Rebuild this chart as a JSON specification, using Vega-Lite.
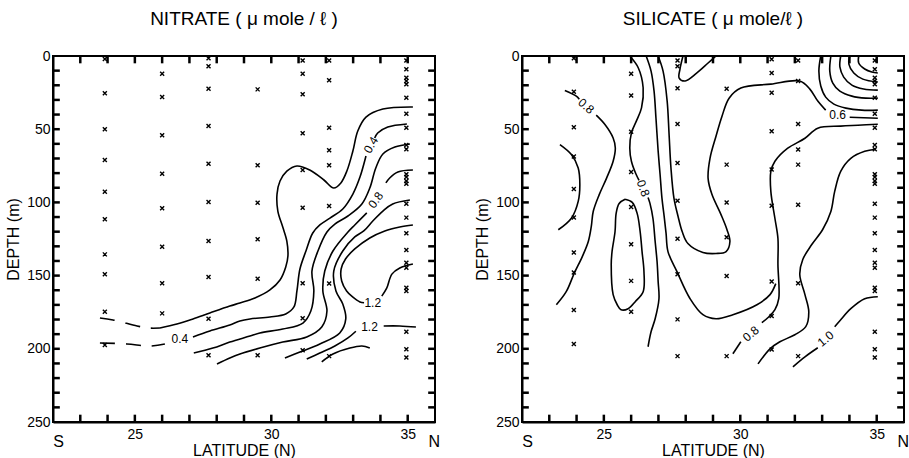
{
"$schema": "https://vega.github.io/schema/vega-lite/v6.json",
"background": "white",
"padding": {"left": 4, "top": 9, "right": 0, "bottom": 0},
"spacing": 32,
"config": {
  "view": {"stroke": "black", "strokeWidth": 2},
  "font": "Liberation Sans",
  "axis": {"grid": false, "ticks": false, "domainColor": "black", "domainWidth": 2, "labelColor": "black", "labelFont": "Liberation Sans", "labelFontSize": 14, "labelPadding": 3, "titleColor": "black", "titleFont": "Liberation Sans", "titleFontSize": 16, "titleFontWeight": "normal"},
  "title": {"font": "Liberation Sans", "fontSize": 19, "fontWeight": "normal", "color": "black", "offset": 20},
  "text": {"font": "Liberation Sans", "color": "black"}
},
"datasets": {
  "frameticks": [
    {"side":"x","v":23},{"side":"x","v":24},{"side":"x","v":25},{"side":"x","v":26},{"side":"x","v":27},{"side":"x","v":28},{"side":"x","v":29},{"side":"x","v":30},{"side":"x","v":31},{"side":"x","v":32},{"side":"x","v":33},{"side":"x","v":34},{"side":"x","v":35},
    {"side":"y","v":10},{"side":"y","v":20},{"side":"y","v":30},{"side":"y","v":40},{"side":"y","v":50},{"side":"y","v":60},{"side":"y","v":70},{"side":"y","v":80},{"side":"y","v":90},{"side":"y","v":100},{"side":"y","v":110},{"side":"y","v":120},{"side":"y","v":130},{"side":"y","v":140},{"side":"y","v":150},{"side":"y","v":160},{"side":"y","v":170},{"side":"y","v":180},{"side":"y","v":190},{"side":"y","v":200},{"side":"y","v":210},{"side":"y","v":220},{"side":"y","v":230},{"side":"y","v":240}
  ],
  "stations": [
    {"p":"N","lat":23.9,"depth":2},{"p":"N","lat":23.9,"depth":25.5},{"p":"N","lat":23.9,"depth":50},{"p":"N","lat":23.9,"depth":71},{"p":"N","lat":23.9,"depth":92.7},{"p":"N","lat":23.9,"depth":111.5},{"p":"N","lat":23.9,"depth":135.5},{"p":"N","lat":23.9,"depth":149},{"p":"N","lat":23.9,"depth":174.7},{"p":"N","lat":23.9,"depth":197.4},
    {"p":"N","lat":26.0,"depth":12.1},{"p":"N","lat":26.0,"depth":28},{"p":"N","lat":26.0,"depth":54.2},{"p":"N","lat":26.0,"depth":80.4},{"p":"N","lat":26.0,"depth":104},{"p":"N","lat":26.0,"depth":130.3},{"p":"N","lat":26.0,"depth":155.3},{"p":"N","lat":26.0,"depth":175.8},
    {"p":"N","lat":27.7,"depth":1.6},{"p":"N","lat":27.7,"depth":7},{"p":"N","lat":27.7,"depth":22.3},{"p":"N","lat":27.7,"depth":47.8},{"p":"N","lat":27.7,"depth":73.6},{"p":"N","lat":27.7,"depth":99.7},{"p":"N","lat":27.7,"depth":126.4},{"p":"N","lat":27.7,"depth":151},{"p":"N","lat":27.7,"depth":179.4},{"p":"N","lat":27.7,"depth":204.4},
    {"p":"N","lat":29.5,"depth":22.8},{"p":"N","lat":29.5,"depth":74.7},{"p":"N","lat":29.5,"depth":100.2},{"p":"N","lat":29.5,"depth":125.2},{"p":"N","lat":29.5,"depth":152.1},{"p":"N","lat":29.5,"depth":204.4},
    {"p":"N","lat":31.15,"depth":3},{"p":"N","lat":31.15,"depth":12.1},{"p":"N","lat":31.15,"depth":26.2},{"p":"N","lat":31.15,"depth":52.8},{"p":"N","lat":31.15,"depth":77.9},{"p":"N","lat":31.15,"depth":103.6},{"p":"N","lat":31.15,"depth":155.3},{"p":"N","lat":31.15,"depth":179.2},{"p":"N","lat":31.15,"depth":201},
    {"p":"N","lat":32.12,"depth":3},{"p":"N","lat":32.12,"depth":16.6},{"p":"N","lat":32.12,"depth":49},{"p":"N","lat":32.12,"depth":64.4},{"p":"N","lat":32.12,"depth":74.7},{"p":"N","lat":32.12,"depth":102.5},{"p":"N","lat":32.12,"depth":155.4},{"p":"N","lat":32.12,"depth":205},
    {"p":"N","lat":34.95,"depth":3},{"p":"N","lat":34.95,"depth":9},{"p":"N","lat":34.95,"depth":14.8},{"p":"N","lat":34.95,"depth":17},{"p":"N","lat":34.95,"depth":19.3},{"p":"N","lat":34.95,"depth":28.5},{"p":"N","lat":34.95,"depth":39.4},{"p":"N","lat":34.95,"depth":49},{"p":"N","lat":34.95,"depth":60.8},{"p":"N","lat":34.95,"depth":63.7},{"p":"N","lat":34.95,"depth":80.8},{"p":"N","lat":34.95,"depth":82.6},{"p":"N","lat":34.95,"depth":85.4},{"p":"N","lat":34.95,"depth":87.2},{"p":"N","lat":34.95,"depth":100.9},{"p":"N","lat":34.95,"depth":110.4},{"p":"N","lat":34.95,"depth":121.1},{"p":"N","lat":34.95,"depth":132.5},{"p":"N","lat":34.95,"depth":141.2},{"p":"N","lat":34.95,"depth":144.6},{"p":"N","lat":34.95,"depth":158.3},{"p":"N","lat":34.95,"depth":160.5},{"p":"N","lat":34.95,"depth":188.3},{"p":"N","lat":34.95,"depth":200.3},{"p":"N","lat":34.95,"depth":206},
    {"p":"S","lat":23.9,"depth":1.6},{"p":"S","lat":23.9,"depth":24.4},{"p":"S","lat":23.9,"depth":48.6},{"p":"S","lat":23.9,"depth":68.7},{"p":"S","lat":23.9,"depth":90.9},{"p":"S","lat":23.9,"depth":110.3},{"p":"S","lat":23.9,"depth":134.2},{"p":"S","lat":23.9,"depth":147.9},{"p":"S","lat":23.9,"depth":173.5},{"p":"S","lat":23.9,"depth":196.8},
    {"p":"S","lat":26.0,"depth":12.1},{"p":"S","lat":26.0,"depth":26.9},{"p":"S","lat":26.0,"depth":51.8},{"p":"S","lat":26.0,"depth":79.2},{"p":"S","lat":26.0,"depth":103.2},{"p":"S","lat":26.0,"depth":128.6},{"p":"S","lat":26.0,"depth":153.6},{"p":"S","lat":26.0,"depth":174.7},
    {"p":"S","lat":27.7,"depth":3},{"p":"S","lat":27.7,"depth":7},{"p":"S","lat":27.7,"depth":22.1},{"p":"S","lat":27.7,"depth":46.4},{"p":"S","lat":27.7,"depth":73.1},{"p":"S","lat":27.7,"depth":98.8},{"p":"S","lat":27.7,"depth":124.9},{"p":"S","lat":27.7,"depth":149.1},{"p":"S","lat":27.7,"depth":179.9},{"p":"S","lat":27.7,"depth":205},
    {"p":"S","lat":29.5,"depth":22.4},{"p":"S","lat":29.5,"depth":74.2},{"p":"S","lat":29.5,"depth":100},{"p":"S","lat":29.5,"depth":123.8},{"p":"S","lat":29.5,"depth":150.2},{"p":"S","lat":29.5,"depth":205},
    {"p":"S","lat":31.15,"depth":2.3},{"p":"S","lat":31.15,"depth":11.6},{"p":"S","lat":31.15,"depth":25.1},{"p":"S","lat":31.15,"depth":51.4},{"p":"S","lat":31.15,"depth":77.6},{"p":"S","lat":31.15,"depth":102.3},{"p":"S","lat":31.15,"depth":154.1},{"p":"S","lat":31.15,"depth":177.6},{"p":"S","lat":31.15,"depth":200.5},
    {"p":"S","lat":32.12,"depth":3},{"p":"S","lat":32.12,"depth":17.1},{"p":"S","lat":32.12,"depth":46.4},{"p":"S","lat":32.12,"depth":63.9},{"p":"S","lat":32.12,"depth":74.2},{"p":"S","lat":32.12,"depth":101.6},{"p":"S","lat":32.12,"depth":155.3},{"p":"S","lat":32.12,"depth":205},
    {"p":"S","lat":34.93,"depth":3},{"p":"S","lat":34.93,"depth":9},{"p":"S","lat":34.93,"depth":14.8},{"p":"S","lat":34.93,"depth":17},{"p":"S","lat":34.93,"depth":19.3},{"p":"S","lat":34.93,"depth":28.5},{"p":"S","lat":34.93,"depth":39.4},{"p":"S","lat":34.93,"depth":49},{"p":"S","lat":34.93,"depth":60.8},{"p":"S","lat":34.93,"depth":63.7},{"p":"S","lat":34.93,"depth":80.8},{"p":"S","lat":34.93,"depth":82.6},{"p":"S","lat":34.93,"depth":85.4},{"p":"S","lat":34.93,"depth":87.2},{"p":"S","lat":34.93,"depth":100.9},{"p":"S","lat":34.93,"depth":110.4},{"p":"S","lat":34.93,"depth":121.1},{"p":"S","lat":34.93,"depth":132.5},{"p":"S","lat":34.93,"depth":141.2},{"p":"S","lat":34.93,"depth":144.6},{"p":"S","lat":34.93,"depth":158.3},{"p":"S","lat":34.93,"depth":160.5},{"p":"S","lat":34.93,"depth":188.3},{"p":"S","lat":34.93,"depth":200.3},{"p":"S","lat":34.93,"depth":206}
  ],
  "nlines": [
    {"c":"L1","lat":35.19,"depth":34.8},{"c":"L1","lat":34.09,"depth":36.2},{"c":"L1","lat":33.47,"depth":41.7},{"c":"L1","lat":33.17,"depth":51.2},{"c":"L1","lat":32.99,"depth":64.9},{"c":"L1","lat":32.77,"depth":78.6},{"c":"L1","lat":32.55,"depth":86.7},{"c":"L1","lat":32.29,"depth":90.2},{"c":"L1","lat":31.93,"depth":84.7},{"c":"L1","lat":31.41,"depth":77.9},{"c":"L1","lat":30.94,"depth":75.1},{"c":"L1","lat":30.57,"depth":78.6},{"c":"L1","lat":30.32,"depth":85.4},{"c":"L1","lat":30.21,"depth":94.3},{"c":"L1","lat":30.24,"depth":105.9},{"c":"L1","lat":30.42,"depth":116.8},{"c":"L1","lat":30.57,"depth":126.4},{"c":"L1","lat":30.61,"depth":136.6},{"c":"L1","lat":30.53,"depth":144.1},{"c":"L1","lat":30.32,"depth":153.0},{"c":"L1","lat":29.95,"depth":159.8},{"c":"L1","lat":29.40,"depth":165.3},{"c":"L1","lat":28.85,"depth":168.7},{"c":"L1","lat":28.48,"depth":170.8},{"c":"L1","lat":27.75,"depth":175.5},{"c":"L1","lat":27.13,"depth":179.6},{"c":"L1","lat":26.54,"depth":183.1},{"c":"L1","lat":25.92,"depth":185.8},
    {"c":"L2a","lat":34.97,"depth":46.4},{"c":"L2a","lat":34.27,"depth":48.5},{"c":"L2a","lat":33.90,"depth":52.6},{"c":"L2a","lat":33.79,"depth":56.0},
    {"c":"L2b","lat":33.47,"depth":68.3},{"c":"L2b","lat":33.25,"depth":82.7},{"c":"L2b","lat":32.99,"depth":94.3},{"c":"L2b","lat":32.62,"depth":104.5},{"c":"L2b","lat":32.15,"depth":110.7},{"c":"L2b","lat":31.78,"depth":115.4},{"c":"L2b","lat":31.52,"depth":120.9},{"c":"L2b","lat":31.27,"depth":133.2},{"c":"L2b","lat":31.05,"depth":145.5},{"c":"L2b","lat":30.94,"depth":160.5},{"c":"L2b","lat":30.83,"depth":171.4},{"c":"L2b","lat":30.53,"depth":176.2},{"c":"L2b","lat":29.95,"depth":178.3},{"c":"L2b","lat":29.22,"depth":179.6},{"c":"L2b","lat":28.85,"depth":181.0},{"c":"L2b","lat":28.48,"depth":183.7},{"c":"L2b","lat":27.75,"depth":187.8},{"c":"L2b","lat":27.13,"depth":191.9},
    {"c":"L3","lat":35.08,"depth":60.1},{"c":"L3","lat":34.53,"depth":62.2},{"c":"L3","lat":34.09,"depth":66.9},{"c":"L3","lat":33.83,"depth":76.5},{"c":"L3","lat":33.61,"depth":90.2},{"c":"L3","lat":33.32,"depth":101.1},{"c":"L3","lat":32.81,"depth":109.3},{"c":"L3","lat":32.33,"depth":114.8},{"c":"L3","lat":32.04,"depth":120.2},{"c":"L3","lat":31.71,"depth":133.2},{"c":"L3","lat":31.49,"depth":146.9},{"c":"L3","lat":31.56,"depth":160.5},{"c":"L3","lat":31.45,"depth":174.2},{"c":"L3","lat":31.16,"depth":182.4},{"c":"L3","lat":30.42,"depth":186.5},{"c":"L3","lat":29.58,"depth":189.2},{"c":"L3","lat":29.22,"depth":191.3},{"c":"L3","lat":28.48,"depth":195.4},{"c":"L3","lat":27.86,"depth":199.5},{"c":"L3","lat":27.16,"depth":202.9},
    {"c":"L4a","lat":35.19,"depth":77.9},{"c":"L4a","lat":34.64,"depth":79.2},{"c":"L4a","lat":34.34,"depth":83.3},{"c":"L4a","lat":34.20,"depth":86.7},
    {"c":"L4b","lat":33.50,"depth":107.2},{"c":"L4b","lat":33.06,"depth":115.4},{"c":"L4b","lat":32.81,"depth":120.2},{"c":"L4b","lat":32.26,"depth":133.2},{"c":"L4b","lat":31.96,"depth":146.9},{"c":"L4b","lat":31.89,"depth":160.5},{"c":"L4b","lat":32.04,"depth":174.2},{"c":"L4b","lat":31.85,"depth":185.1},{"c":"L4b","lat":31.30,"depth":191.9},{"c":"L4b","lat":30.42,"depth":195.4},{"c":"L4b","lat":29.58,"depth":199.5},{"c":"L4b","lat":28.85,"depth":203.6},{"c":"L4b","lat":28.48,"depth":206.3},{"c":"L4b","lat":28.01,"depth":210.4},
    {"c":"L5","lat":35.08,"depth":98.4},{"c":"L5","lat":34.45,"depth":101.1},{"c":"L5","lat":34.09,"depth":105.9},{"c":"L5","lat":33.72,"depth":112.7},{"c":"L5","lat":33.39,"depth":119.5},{"c":"L5","lat":33.06,"depth":123.6},{"c":"L5","lat":32.62,"depth":133.2},{"c":"L5","lat":32.29,"depth":146.9},{"c":"L5","lat":32.37,"depth":160.5},{"c":"L5","lat":32.62,"depth":169.4},{"c":"L5","lat":32.73,"depth":179.6},{"c":"L5","lat":32.51,"depth":189.2},{"c":"L5","lat":31.78,"depth":196.7},{"c":"L5","lat":31.05,"depth":202.2},{"c":"L5","lat":30.50,"depth":206.3},
    {"c":"Ua","lat":35.19,"depth":115.4},{"c":"Ua","lat":34.71,"depth":116.8},{"c":"Ua","lat":34.16,"depth":119.5},{"c":"Ua","lat":33.61,"depth":124.3},{"c":"Ua","lat":33.06,"depth":131.8},{"c":"Ua","lat":32.72,"depth":138.7},{"c":"Ua","lat":32.56,"depth":145.5},{"c":"Ua","lat":32.58,"depth":153.7},{"c":"Ua","lat":32.76,"depth":160.5},{"c":"Ua","lat":32.98,"depth":164.6},{"c":"Ua","lat":33.25,"depth":168.0},{"c":"Ua","lat":33.40,"depth":168.5},
    {"c":"Ub","lat":34.05,"depth":164.0},{"c":"Ub","lat":34.23,"depth":158.6},{"c":"Ub","lat":34.42,"depth":149.0},{"c":"Ub","lat":34.71,"depth":144.8},{"c":"Ub","lat":35.19,"depth":142.1},
    {"c":"Ka","lat":35.30,"depth":185.1},{"c":"Ka","lat":34.71,"depth":184.4},{"c":"Ka","lat":34.12,"depth":184.4},
    {"c":"Kb","lat":33.10,"depth":188.0},{"c":"Kb","lat":32.81,"depth":192.6},{"c":"Kb","lat":32.33,"depth":198.1},{"c":"Kb","lat":31.78,"depth":202.9},{"c":"Kb","lat":31.30,"depth":207.0},
    {"c":"M","lat":31.85,"depth":209.0},{"c":"M","lat":32.26,"depth":203.6},{"c":"M","lat":32.88,"depth":199.5},{"c":"M","lat":33.32,"depth":198.1},{"c":"M","lat":33.61,"depth":199.5}
  ],
  "nlines_ext": [
    {"c":"L1d","lat":23.72,"depth":179.0},{"c":"L1d","lat":24.20,"depth":180.3},{"c":"L1d","lat":25.08,"depth":184.4},{"c":"L1d","lat":25.48,"depth":185.8},{"c":"L1d","lat":25.92,"depth":185.8},
    {"c":"L2d","lat":23.72,"depth":196.0},{"c":"L2d","lat":24.71,"depth":196.7},{"c":"L2d","lat":25.55,"depth":198.1},{"c":"L2d","lat":26.10,"depth":196.7}
  ],
  "slines": [
    {"c":"S1a","lat":23.57,"depth":23.5},{"c":"S1a","lat":23.99,"depth":27.4},{"c":"S1a","lat":24.10,"depth":29.5},
    {"c":"S1b","lat":24.72,"depth":40.4},{"c":"S1b","lat":25.04,"depth":46.8},{"c":"S1b","lat":25.34,"depth":56.0},{"c":"S1b","lat":25.42,"depth":62.8},{"c":"S1b","lat":25.34,"depth":71.9},{"c":"S1b","lat":25.10,"depth":83.4},{"c":"S1b","lat":24.83,"depth":94.7},{"c":"S1b","lat":24.61,"depth":106.2},{"c":"S1b","lat":24.54,"depth":116.4},{"c":"S1b","lat":24.43,"depth":126.7},{"c":"S1b","lat":24.21,"depth":137.0},{"c":"S1b","lat":23.91,"depth":148.6},{"c":"S1b","lat":23.62,"depth":161.0},{"c":"S1b","lat":23.26,"depth":169.9},
    {"c":"S2","lat":23.39,"depth":60.5},{"c":"S2","lat":23.81,"depth":67.3},{"c":"S2","lat":24.06,"depth":76.5},{"c":"S2","lat":24.12,"depth":87.9},{"c":"S2","lat":24.06,"depth":99.3},{"c":"S2","lat":23.81,"depth":110.8},{"c":"S2","lat":23.33,"depth":118.7},
    {"c":"S3a","lat":25.95,"depth":0},{"c":"S3a","lat":26.26,"depth":8.0},{"c":"S3a","lat":26.44,"depth":21.7},{"c":"S3a","lat":26.38,"depth":35.4},{"c":"S3a","lat":26.19,"depth":44.5},{"c":"S3a","lat":26.01,"depth":52.5},{"c":"S3a","lat":25.95,"depth":62.8},{"c":"S3a","lat":26.01,"depth":71.9},{"c":"S3a","lat":26.18,"depth":80.8},{"c":"S3a","lat":26.29,"depth":84.9},
    {"c":"S3b","lat":26.62,"depth":96.6},{"c":"S3b","lat":26.69,"depth":100.7},{"c":"S3b","lat":26.80,"depth":111.0},{"c":"S3b","lat":26.88,"depth":126.7},{"c":"S3b","lat":26.95,"depth":140.4},{"c":"S3b","lat":26.99,"depth":154.1},{"c":"S3b","lat":27.02,"depth":165.8},{"c":"S3b","lat":26.88,"depth":179.5},{"c":"S3b","lat":26.73,"depth":188.4},{"c":"S3b","lat":26.62,"depth":198.6},
    {"c":"S4","lat":26.55,"depth":0},{"c":"S4","lat":26.73,"depth":10.3},{"c":"S4","lat":26.84,"depth":24.0},{"c":"S4","lat":26.91,"depth":42.5},{"c":"S4","lat":26.99,"depth":65.1},{"c":"S4","lat":27.06,"depth":80.8},{"c":"S4","lat":27.13,"depth":97.3},{"c":"S4","lat":27.21,"depth":109.6},{"c":"S4","lat":27.28,"depth":121.2},{"c":"S4","lat":27.35,"depth":133.6},{"c":"S4","lat":27.68,"depth":147.3},{"c":"S4","lat":28.16,"depth":165.8},{"c":"S4","lat":28.63,"depth":176.7},{"c":"S4","lat":29.11,"depth":179.5},{"c":"S4","lat":29.73,"depth":176.7},{"c":"S4","lat":30.61,"depth":169.9},{"c":"S4","lat":31.09,"depth":163.0},{"c":"S4","lat":31.30,"depth":155.5},
    {"c":"S5a","lat":26.99,"depth":0},{"c":"S5a","lat":27.17,"depth":10.3},{"c":"S5a","lat":27.32,"depth":30.8},{"c":"S5a","lat":27.39,"depth":53.4},{"c":"S5a","lat":27.46,"depth":76.7},{"c":"S5a","lat":27.57,"depth":97.3},{"c":"S5a","lat":27.72,"depth":109.6},{"c":"S5a","lat":27.87,"depth":119.9},{"c":"S5a","lat":28.08,"depth":128.1},{"c":"S5a","lat":28.63,"depth":134.2},{"c":"S5a","lat":29.11,"depth":134.9},{"c":"S5a","lat":29.48,"depth":133.6},{"c":"S5a","lat":29.62,"depth":126.7},{"c":"S5a","lat":29.51,"depth":118.5},{"c":"S5a","lat":29.29,"depth":108.2},{"c":"S5a","lat":28.96,"depth":94.5},{"c":"S5a","lat":28.82,"depth":83.6},{"c":"S5a","lat":28.89,"depth":69.9},{"c":"S5a","lat":29.11,"depth":54.8},{"c":"S5a","lat":29.33,"depth":41.1},{"c":"S5a","lat":29.59,"depth":28.8},{"c":"S5a","lat":30.02,"depth":21.9},{"c":"S5a","lat":31.12,"depth":19.2},{"c":"S5a","lat":32.18,"depth":17.1},{"c":"S5a","lat":32.55,"depth":22.6},{"c":"S5a","lat":32.84,"depth":30.8},{"c":"S5a","lat":33.13,"depth":37.0},
    {"c":"S5b","lat":34.01,"depth":41.8},{"c":"S5b","lat":35.04,"depth":42.5},
    {"c":"T","lat":27.90,"depth":0},{"c":"T","lat":27.79,"depth":8.9},{"c":"T","lat":27.76,"depth":15.1},{"c":"T","lat":27.98,"depth":17.1},{"c":"T","lat":28.41,"depth":11.6},{"c":"T","lat":28.82,"depth":4.8},{"c":"T","lat":29.11,"depth":0},
    {"c":"LP","lat":25.78,"depth":97.9},{"c":"LP","lat":25.56,"depth":100.7},{"c":"LP","lat":25.45,"depth":107.5},{"c":"LP","lat":25.41,"depth":119.9},{"c":"LP","lat":25.30,"depth":133.6},{"c":"LP","lat":25.27,"depth":142.5},{"c":"LP","lat":25.34,"depth":163.0},{"c":"LP","lat":25.49,"depth":169.9},{"c":"LP","lat":25.63,"depth":173.3},{"c":"LP","lat":25.89,"depth":172.6},{"c":"LP","lat":26.15,"depth":167.8},{"c":"LP","lat":26.44,"depth":161.0},{"c":"LP","lat":26.47,"depth":147.3},{"c":"LP","lat":26.40,"depth":133.6},{"c":"LP","lat":26.33,"depth":119.9},{"c":"LP","lat":26.22,"depth":107.5},{"c":"LP","lat":26.04,"depth":100.0},{"c":"LP","lat":25.78,"depth":97.9},
    {"c":"Va","lat":35.04,"depth":46.6},{"c":"Va","lat":34.31,"depth":47.3},{"c":"Va","lat":33.68,"depth":47.9},{"c":"Va","lat":32.84,"depth":49.3},{"c":"Va","lat":32.37,"depth":56.2},{"c":"Va","lat":31.74,"depth":63.0},{"c":"Va","lat":31.27,"depth":71.9},{"c":"Va","lat":31.12,"depth":78.8},{"c":"Va","lat":31.12,"depth":92.5},{"c":"Va","lat":31.27,"depth":111.0},{"c":"Va","lat":31.38,"depth":124.7},{"c":"Va","lat":31.38,"depth":142.5},{"c":"Va","lat":31.41,"depth":165.8},{"c":"Va","lat":31.27,"depth":173.3},{"c":"Va","lat":31.05,"depth":178.1},{"c":"Va","lat":30.79,"depth":182.2},
    {"c":"Vb","lat":30.02,"depth":195.2},{"c":"Vb","lat":29.73,"depth":203.4},
    {"c":"S6","lat":34.96,"depth":63.7},{"c":"S6","lat":34.56,"depth":65.1},{"c":"S6","lat":34.05,"depth":69.9},{"c":"S6","lat":33.68,"depth":78.8},{"c":"S6","lat":33.46,"depth":92.5},{"c":"S6","lat":33.32,"depth":106.2},{"c":"S6","lat":33.02,"depth":118.5},{"c":"S6","lat":32.62,"depth":128.8},{"c":"S6","lat":32.29,"depth":139.0},{"c":"S6","lat":32.18,"depth":149.3},{"c":"S6","lat":32.37,"depth":163.0},{"c":"S6","lat":32.51,"depth":174.7},{"c":"S6","lat":32.40,"depth":184.9},{"c":"S6","lat":32.00,"depth":190.4},{"c":"S6","lat":31.45,"depth":195.2},{"c":"S6","lat":31.09,"depth":200.0},{"c":"S6","lat":30.65,"depth":210.3},
    {"c":"S7a","lat":35.04,"depth":164.4},{"c":"S7a","lat":34.56,"depth":165.8},{"c":"S7a","lat":34.05,"depth":172.6},{"c":"S7a","lat":33.65,"depth":180.8},{"c":"S7a","lat":33.46,"depth":184.9},
    {"c":"S7b","lat":32.84,"depth":199.3},{"c":"S7b","lat":32.37,"depth":205.5},{"c":"S7b","lat":31.93,"depth":212.3},
    {"c":"A1","lat":32.95,"depth":0},{"c":"A1","lat":32.88,"depth":10.3},{"c":"A1","lat":32.95,"depth":20.5},{"c":"A1","lat":33.13,"depth":28.1},{"c":"A1","lat":33.43,"depth":32.9},{"c":"A1","lat":33.87,"depth":35.6},{"c":"A1","lat":34.45,"depth":37.0},{"c":"A1","lat":35.04,"depth":37.0},
    {"c":"A2","lat":33.32,"depth":0},{"c":"A2","lat":33.28,"depth":10.3},{"c":"A2","lat":33.39,"depth":18.5},{"c":"A2","lat":33.65,"depth":24.0},{"c":"A2","lat":34.09,"depth":27.4},{"c":"A2","lat":34.60,"depth":28.8},{"c":"A2","lat":35.04,"depth":28.8},
    {"c":"A3","lat":33.68,"depth":0},{"c":"A3","lat":33.65,"depth":7.5},{"c":"A3","lat":33.79,"depth":14.4},{"c":"A3","lat":34.09,"depth":19.9},{"c":"A3","lat":34.52,"depth":22.6},{"c":"A3","lat":35.04,"depth":23.3},
    {"c":"A4","lat":34.01,"depth":0},{"c":"A4","lat":33.98,"depth":5.5},{"c":"A4","lat":34.16,"depth":11.6},{"c":"A4","lat":34.49,"depth":15.8},{"c":"A4","lat":35.04,"depth":17.8},
    {"c":"A5","lat":34.34,"depth":0},{"c":"A5","lat":34.34,"depth":4.8},{"c":"A5","lat":34.56,"depth":8.9},{"c":"A5","lat":34.82,"depth":11.0},{"c":"A5","lat":35.04,"depth":11.6}
  ],
  "labels": [
    {"p":"N","k":1,"t":"0.4","lat":33.65,"depth":60.8},
    {"p":"N","k":2,"t":"0.8","lat":33.83,"depth":98.4},
    {"p":"N","k":3,"t":"1.2","lat":33.72,"depth":168.7},
    {"p":"N","k":4,"t":"1.2","lat":33.60,"depth":185.1},
    {"p":"N","k":5,"t":"0.4","lat":26.65,"depth":193.3},
    {"p":"S","k":1,"t":"0.8","lat":24.35,"depth":34.2},
    {"p":"S","k":2,"t":"0.8","lat":26.44,"depth":90.4},
    {"p":"S","k":3,"t":"0.6","lat":33.57,"depth":40.4},
    {"p":"S","k":4,"t":"0.8","lat":30.39,"depth":189.7},
    {"p":"S","k":5,"t":"1.0","lat":33.13,"depth":193.2}
  ],
  "ends": [{"t":"S","lat":22.2},{"t":"N","lat":35.97}]
},
"hconcat": [
  {
    "width": 382, "height": 366,
    "title": {"text": "NITRATE ( μ mole / ℓ )"},
    "layer": [
      {"data": {"name": "stations"}, "transform": [{"filter": "datum.p === 'N'"}],
       "mark": {"type": "point", "shape": "M-1,-1L1,1M1,-1L-1,1", "size": 16, "stroke": "black", "strokeWidth": 1.4, "filled": false, "opacity": 1},
       "encoding": {
         "x": {"field": "lat", "type": "quantitative", "scale": {"domain": [22, 36], "nice": false, "zero": false},
               "axis": {"orient": "bottom", "values": [25,30,35], "labelPadding": 5, "title": "LATITUDE (N)", "titlePadding": 1}},
         "y": {"field": "depth", "type": "quantitative", "scale": {"domain": [0, 250], "reverse": true, "nice": false, "zero": false},
               "axis": {"orient": "left", "values": [0,50,100,150,200,250], "labelPadding": 3, "title": "DEPTH (m)", "titlePadding": 5}}}},
      {"data": {"name": "frameticks"}, "transform": [{"filter": "datum.side === 'x'"}], "mark": {"type": "rule", "stroke": "black", "strokeWidth": 2.5, "opacity": 1},
       "encoding": {"x": {"field": "v", "type": "quantitative"}, "y": {"datum": 0}, "y2": {"datum": 5}}},
      {"data": {"name": "frameticks"}, "transform": [{"filter": "datum.side === 'x'"}], "mark": {"type": "rule", "stroke": "black", "strokeWidth": 2.5, "opacity": 1},
       "encoding": {"x": {"field": "v", "type": "quantitative"}, "y": {"datum": 245}, "y2": {"datum": 250}}},
      {"data": {"name": "frameticks"}, "transform": [{"filter": "datum.side === 'y'"}], "mark": {"type": "rule", "stroke": "black", "strokeWidth": 2.5, "opacity": 1},
       "encoding": {"y": {"field": "v", "type": "quantitative"}, "x": {"datum": 22}, "x2": {"datum": 22.25}}},
      {"data": {"name": "frameticks"}, "transform": [{"filter": "datum.side === 'y'"}], "mark": {"type": "rule", "stroke": "black", "strokeWidth": 2.5, "opacity": 1},
       "encoding": {"y": {"field": "v", "type": "quantitative"}, "x": {"datum": 35.75}, "x2": {"datum": 36}}},
      {"data": {"name": "nlines"},
       "mark": {"type": "line", "stroke": "black", "strokeWidth": 1.6, "interpolate": "catmull-rom"},
       "encoding": {"x": {"field": "lat", "type": "quantitative"}, "y": {"field": "depth", "type": "quantitative"}, "detail": {"field": "c"}, "order": {"value": null}}},
      {"data": {"name": "nlines_ext"},
       "mark": {"type": "line", "stroke": "black", "strokeWidth": 1.6, "strokeDash": [15, 11], "interpolate": "catmull-rom"},
       "encoding": {"x": {"field": "lat", "type": "quantitative"}, "y": {"field": "depth", "type": "quantitative"}, "detail": {"field": "c"}, "order": {"value": null}}},
      {"data": {"name": "labels"}, "transform": [{"filter": "datum.p === 'N' && datum.k === 1"}],
       "mark": {"type": "text", "fontSize": 12, "angle": 300},
       "encoding": {"x": {"field": "lat", "type": "quantitative"}, "y": {"field": "depth", "type": "quantitative"}, "text": {"field": "t"}}},
      {"data": {"name": "labels"}, "transform": [{"filter": "datum.p === 'N' && datum.k === 2"}],
       "mark": {"type": "text", "fontSize": 12, "angle": 305},
       "encoding": {"x": {"field": "lat", "type": "quantitative"}, "y": {"field": "depth", "type": "quantitative"}, "text": {"field": "t"}}},
      {"data": {"name": "labels"}, "transform": [{"filter": "datum.p === 'N' && datum.k >= 3"}],
       "mark": {"type": "text", "fontSize": 12},
       "encoding": {"x": {"field": "lat", "type": "quantitative"}, "y": {"field": "depth", "type": "quantitative"}, "text": {"field": "t"}}},
      {"data": {"name": "ends"},
       "mark": {"type": "text", "fontSize": 16},
       "encoding": {"x": {"field": "lat", "type": "quantitative"}, "y": {"datum": 264}, "text": {"field": "t"}}}
    ]
  },
  {
    "width": 382, "height": 366,
    "title": {"text": "SILICATE ( μ mole/ℓ )"},
    "layer": [
      {"data": {"name": "stations"}, "transform": [{"filter": "datum.p === 'S'"}],
       "mark": {"type": "point", "shape": "M-1,-1L1,1M1,-1L-1,1", "size": 16, "stroke": "black", "strokeWidth": 1.4, "filled": false, "opacity": 1},
       "encoding": {
         "x": {"field": "lat", "type": "quantitative", "scale": {"domain": [22, 36], "nice": false, "zero": false},
               "axis": {"orient": "bottom", "values": [25,30,35], "labelPadding": 5, "title": "LATITUDE (N)", "titlePadding": 1}},
         "y": {"field": "depth", "type": "quantitative", "scale": {"domain": [0, 250], "reverse": true, "nice": false, "zero": false},
               "axis": {"orient": "left", "values": [0,50,100,150,200,250], "labelPadding": 3, "title": "DEPTH (m)", "titlePadding": 5}}}},
      {"data": {"name": "frameticks"}, "transform": [{"filter": "datum.side === 'x'"}], "mark": {"type": "rule", "stroke": "black", "strokeWidth": 2.5, "opacity": 1},
       "encoding": {"x": {"field": "v", "type": "quantitative"}, "y": {"datum": 0}, "y2": {"datum": 5}}},
      {"data": {"name": "frameticks"}, "transform": [{"filter": "datum.side === 'x'"}], "mark": {"type": "rule", "stroke": "black", "strokeWidth": 2.5, "opacity": 1},
       "encoding": {"x": {"field": "v", "type": "quantitative"}, "y": {"datum": 245}, "y2": {"datum": 250}}},
      {"data": {"name": "frameticks"}, "transform": [{"filter": "datum.side === 'y'"}], "mark": {"type": "rule", "stroke": "black", "strokeWidth": 2.5, "opacity": 1},
       "encoding": {"y": {"field": "v", "type": "quantitative"}, "x": {"datum": 22}, "x2": {"datum": 22.25}}},
      {"data": {"name": "frameticks"}, "transform": [{"filter": "datum.side === 'y'"}], "mark": {"type": "rule", "stroke": "black", "strokeWidth": 2.5, "opacity": 1},
       "encoding": {"y": {"field": "v", "type": "quantitative"}, "x": {"datum": 35.75}, "x2": {"datum": 36}}},
      {"data": {"name": "slines"},
       "mark": {"type": "line", "stroke": "black", "strokeWidth": 1.6, "interpolate": "catmull-rom"},
       "encoding": {"x": {"field": "lat", "type": "quantitative"}, "y": {"field": "depth", "type": "quantitative"}, "detail": {"field": "c"}, "order": {"value": null}}},
      {"data": {"name": "labels"}, "transform": [{"filter": "datum.p === 'S' && datum.k === 1"}],
       "mark": {"type": "text", "fontSize": 12, "angle": 40},
       "encoding": {"x": {"field": "lat", "type": "quantitative"}, "y": {"field": "depth", "type": "quantitative"}, "text": {"field": "t"}}},
      {"data": {"name": "labels"}, "transform": [{"filter": "datum.p === 'S' && datum.k === 2"}],
       "mark": {"type": "text", "fontSize": 12, "angle": 70},
       "encoding": {"x": {"field": "lat", "type": "quantitative"}, "y": {"field": "depth", "type": "quantitative"}, "text": {"field": "t"}}},
      {"data": {"name": "labels"}, "transform": [{"filter": "datum.p === 'S' && datum.k === 3"}],
       "mark": {"type": "text", "fontSize": 12},
       "encoding": {"x": {"field": "lat", "type": "quantitative"}, "y": {"field": "depth", "type": "quantitative"}, "text": {"field": "t"}}},
      {"data": {"name": "labels"}, "transform": [{"filter": "datum.p === 'S' && datum.k >= 4"}],
       "mark": {"type": "text", "fontSize": 12, "angle": 320},
       "encoding": {"x": {"field": "lat", "type": "quantitative"}, "y": {"field": "depth", "type": "quantitative"}, "text": {"field": "t"}}},
      {"data": {"name": "ends"},
       "mark": {"type": "text", "fontSize": 16},
       "encoding": {"x": {"field": "lat", "type": "quantitative"}, "y": {"datum": 264}, "text": {"field": "t"}}}
    ]
  }
]
}
